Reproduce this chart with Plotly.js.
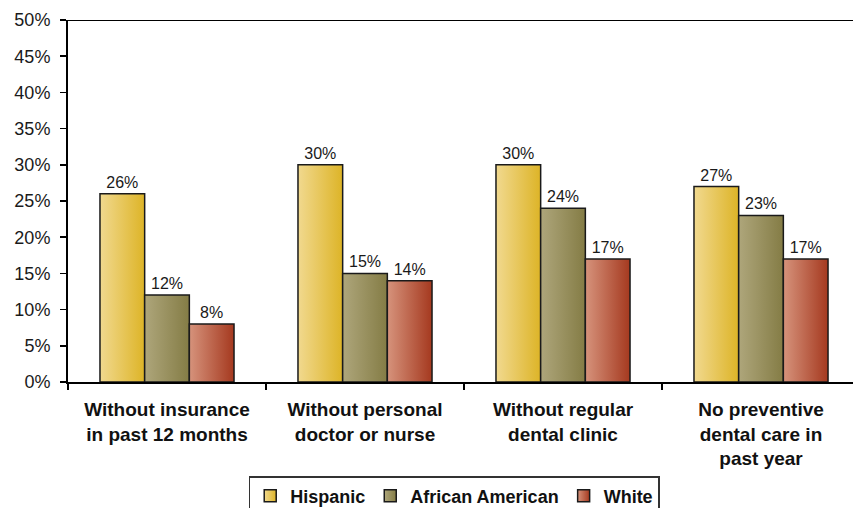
<!DOCTYPE html>
<html>
<head>
<meta charset="utf-8">
<script src="https://cdn.plot.ly/plotly-3.0.1.min.js"></script>
<style>
html,body{margin:0;padding:0;background:#fff;overflow:hidden;}
#chart{width:853px;height:508px;}
</style>
</head>
<body>
<div id="chart"></div>
<script>
const categories = [
  "Without insurance<br>in past 12 months",
  "Without personal<br>doctor or nurse",
  "Without regular<br>dental clinic",
  "No preventive<br>dental care in<br>past year"
];
const seriesNames = ["Hispanic", "African American", "White"];
const hispanic = [26, 30, 30, 27];
const africanAmerican = [12, 15, 24, 23];
const white = [8, 14, 17, 17];
const yTickVals = [0, 5, 10, 15, 20, 25, 30, 35, 40, 45, 50];

const gradients = [
  ["#F1D98F", "#DDB427"],
  ["#AEA67B", "#847C45"],
  ["#D6937C", "#A5391F"]
];
const baseColors = ["#E6C456", "#9B9360", "#BE6249"];

const seriesValues = [hispanic, africanAmerican, white];
const traces = seriesValues.map((vals, i) => ({
  type: "bar",
  name: seriesNames[i],
  x: categories,
  y: vals,
  text: vals.map(v => v + "%"),
  textposition: "outside",
  cliponaxis: false,
  textfont: {family: "Liberation Sans, Arial, sans-serif", size: 16, color: "#1a1a1a"},
  marker: {color: baseColors[i], line: {color: "#1a1a1a", width: 1.5}},
  hoverinfo: "none"
}));

const layout = {
  width: 853,
  height: 508,
  margin: {l: 68, r: 0, t: 20, b: 126, autoexpand: false},
  paper_bgcolor: "#ffffff",
  plot_bgcolor: "#ffffff",
  barmode: "group",
  bargap: 0.323,
  bargroupgap: 0,
  font: {family: "Liberation Sans, Arial, sans-serif", color: "#1a1a1a"},
  showlegend: true,
  legend: {
    orientation: "h",
    x: 0.492,
    xanchor: "center",
    y: -0.26,
    yanchor: "top",
    bgcolor: "#ffffff",
    bordercolor: "#333333",
    borderwidth: 1.5,
    font: {size: 18, weight: "bold", color: "#111111"},
    traceorder: "normal"
  },
  xaxis: {
    type: "category",
    range: [-0.5, 3.4646],
    tickson: "boundaries",
    ticks: "outside",
    ticklen: 6,
    tickwidth: 1.5,
    tickcolor: "#000",
    showline: true,
    linecolor: "#000",
    linewidth: 2,
    showgrid: false,
    tickfont: {size: 19, weight: "bold", color: "#111111"},
    ticklabelstandoff: 9,
    fixedrange: true
  },
  yaxis: {
    range: [0, 50],
    tickvals: yTickVals,
    ticktext: yTickVals.map(v => v + "%"),
    ticks: "outside",
    ticklen: 6,
    tickwidth: 1.5,
    tickcolor: "#000",
    showline: true,
    linecolor: "#000",
    linewidth: 2,
    showgrid: false,
    zeroline: false,
    tickfont: {size: 18, color: "#1a1a1a"},
    ticklabelstandoff: 6,
    fixedrange: true
  },
  shapes: [{
    type: "line", xref: "paper", yref: "y",
    x0: 0, x1: 1, y0: 50, y1: 50,
    line: {color: "#000", width: 2}
  }]
};

const gd = document.getElementById("chart");
Plotly.newPlot(gd, traces, layout, {staticPlot: true, displayModeBar: false}).then(() => {
  const svg = gd.querySelector(".main-svg");
  const ns = "http://www.w3.org/2000/svg";
  let defs = svg.querySelector("defs");
  if (!defs) { defs = document.createElementNS(ns, "defs"); svg.insertBefore(defs, svg.firstChild); }
  gradients.forEach((g, i) => {
    const lg = document.createElementNS(ns, "linearGradient");
    lg.setAttribute("id", "barGrad" + i);
    lg.setAttribute("x1", "0"); lg.setAttribute("y1", "0");
    lg.setAttribute("x2", "1"); lg.setAttribute("y2", "0");
    [[0, g[0]], [1, g[1]]].forEach(([o, c]) => {
      const s = document.createElementNS(ns, "stop");
      s.setAttribute("offset", o);
      s.setAttribute("stop-color", c);
      lg.appendChild(s);
    });
    defs.appendChild(lg);
  });
  gd.querySelectorAll(".barlayer .trace").forEach((tr, i) => {
    tr.querySelectorAll(".point path").forEach(p => { p.style.fill = "url(#barGrad" + i + ")"; });
  });
  gd.querySelectorAll(".legend .traces").forEach((tr, i) => {
    tr.querySelectorAll(".legendpoints path").forEach(p => { p.style.fill = "url(#barGrad" + i + ")"; });
  });
});
</script>
</body>
</html>
